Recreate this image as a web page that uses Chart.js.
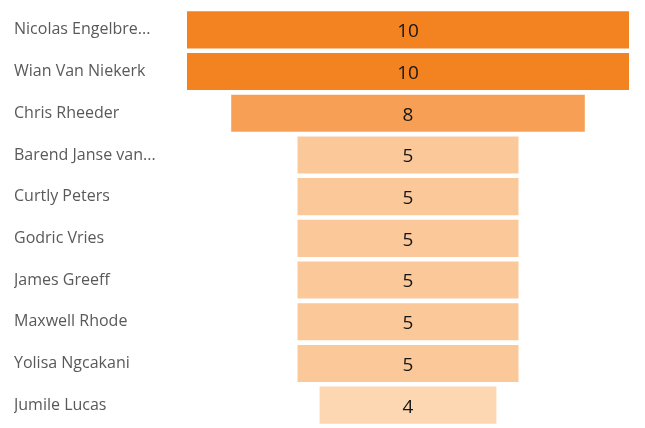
<!DOCTYPE html>
<html>
<head>
<meta charset="utf-8">
<script src="https://cdn.jsdelivr.net/npm/chart.js@4/dist/chart.umd.min.js"></script>
<style>
html,body{margin:0;padding:0;background:#fff;}
#wrap{width:645px;height:428px;position:relative;}
</style>
</head>
<body>
<div id="wrap"><canvas id="c" width="645" height="428"></canvas></div>
<script>
const names = ["Nicolas Engelbre...", "Wian Van Niekerk", "Chris Rheeder", "Barend Janse van...", "Curtly Peters", "Godric Vries", "James Greeff", "Maxwell Rhode", "Yolisa Ngcakani", "Jumile Lucas"];
const values = [10, 10, 8, 5, 5, 5, 5, 5, 5, 4];
const barColors = ["#F38321", "#F38321", "#F7A055", "#FBC999", "#FBC999", "#FBC999", "#FBC999", "#FBC999", "#FBC999", "#FDD7B2"];

const spans = values.map(v => [-v / 2, v / 2]);

const labelPlugin = {
  id: 'centerLabels',
  afterDatasetsDraw(chart) {
    const ctx = chart.ctx;
    const meta = chart.getDatasetMeta(0);
    ctx.save();
    ctx.fillStyle = '#161616';
    ctx.font = '19px "Open Sans", sans-serif';
    ctx.textAlign = 'center';
    ctx.textBaseline = 'middle';
    meta.data.forEach((bar, i) => {
      const p = bar.getProps(['x', 'y', 'base'], true);
      ctx.fillText(String(values[i]), (p.x + p.base) / 2, p.y + 2);
    });
    ctx.restore();
  }
};

new Chart(document.getElementById('c'), {
  type: 'bar',
  data: {
    labels: names,
    datasets: [{
      data: spans,
      backgroundColor: barColors,
      borderWidth: 0,
      barPercentage: 0.89,
      categoryPercentage: 1
    }]
  },
  options: {
    indexAxis: 'y',
    responsive: false,
    animation: false,
    layout: { padding: { left: 14, right: 16, top: 9, bottom: 2 } },
    plugins: { legend: { display: false }, tooltip: { enabled: false } },
    scales: {
      x: { display: false, min: -5, max: 5 },
      y: {
        grid: { display: false },
        border: { display: false },
        ticks: {
          crossAlign: 'far',
          color: '#595959',
          font: { family: '"Open Sans", sans-serif', size: 16 }
        },
        afterFit(scale) {
          scale.width = 173;
          scale.paddingTop = 0;
          scale.paddingBottom = 0;
        }
      }
    }
  },
  plugins: [labelPlugin]
});
</script>
</body>
</html>
